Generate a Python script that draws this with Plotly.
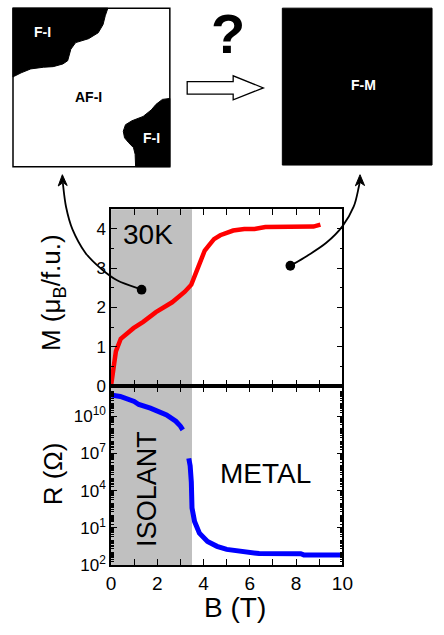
import plotly.graph_objects as go

# ---- data -------------------------------------------------------------
# Magnetisation M (mu_B / f.u.) versus field B (T) at 30 K
B_mag = [0.0, 0.1, 0.21, 0.42, 0.7, 0.97, 1.39, 1.94, 2.64, 3.19, 3.47, 3.61,
         3.75, 3.89, 4.05, 4.24, 4.45, 4.72, 5.0, 5.28, 5.76, 6.2, 6.67, 7.5,
         8.75, 9.05]
M_mag = [0.0, 0.45, 0.88, 1.2, 1.35, 1.47, 1.63, 1.88, 2.13, 2.4, 2.58, 2.8,
         3.05, 3.25, 3.45, 3.59, 3.74, 3.84, 3.91, 3.96, 4.0, 4.0, 4.05, 4.06,
         4.06, 4.11]

# Resistance R (Ohm) versus field B (T): insulating branch and metallic branch
B_res_ins = [0.0, 0.05, 0.4, 1.0, 1.2, 1.7, 2.4, 2.8, 3.0, 3.1]
R_res_ins = [7.0e11, 5.0e11, 4.0e11, 1.6e11, 9.0e10, 4.5e10, 1.3e10, 4.0e9,
             1.6e9, 8.0e8]
B_res_met = [3.36, 3.42, 3.47, 3.5, 3.61, 3.82, 4.17, 4.58, 5.0, 5.28, 6.25,
             6.4, 8.2, 8.33, 10.0]
R_res_met = [4.0e6, 1.0e6, 5.0e4, 4.0e2, 3.2e1, 3.7, 0.8, 0.32, 0.18, 0.15,
             0.095, 0.083, 0.08, 0.065, 0.065]

# tick labels of the log axis
R_tickvals = [1e-2, 1e1, 1e4, 1e7, 1e10]
R_ticktext = ["10<sup>2</sup>", "10<sup>1</sup>", "10<sup>4</sup>",
              "10<sup>7</sup>", "10<sup>10</sup>"]

B_insulator_edge = 3.5

# ---- geometry helpers (pixel -> paper) --------------------------------
W, H = 444, 635
FONT = "Liberation Sans, Arial, Helvetica, sans-serif"


def px(x):
    return x / W


def py(y):
    return 1 - y / H


def poly_path(points, close=True):
    d = "M" + " L".join(f"{px(x):.5f},{py(y):.5f}" for x, y in points)
    return d + (" Z" if close else "")


def smooth_path(points):
    pts = [(px(x), py(y)) for x, y in points]
    d = f"M{pts[0][0]:.5f},{pts[0][1]:.5f}"
    n = len(pts)
    for i in range(n - 1):
        p0 = pts[i - 1] if i > 0 else pts[i]
        p1, p2 = pts[i], pts[i + 1]
        p3 = pts[i + 2] if i + 2 < n else p2
        c1 = (p1[0] + (p2[0] - p0[0]) / 6, p1[1] + (p2[1] - p0[1]) / 6)
        c2 = (p2[0] - (p3[0] - p1[0]) / 6, p2[1] - (p3[1] - p1[1]) / 6)
        d += (f" C{c1[0]:.5f},{c1[1]:.5f} {c2[0]:.5f},{c2[1]:.5f} "
              f"{p2[0]:.5f},{p2[1]:.5f}")
    return d


# ---- figure -----------------------------------------------------------
fig = go.Figure()

fig.add_trace(go.Scatter(x=B_mag, y=M_mag, mode="lines",
                         line=dict(color="#ff0000", width=4.5),
                         xaxis="x", yaxis="y", showlegend=False,
                         hoverinfo="skip"))
fig.add_trace(go.Scatter(x=B_res_ins, y=R_res_ins, mode="lines",
                         line=dict(color="#0000ff", width=5),
                         xaxis="x2", yaxis="y2", showlegend=False,
                         hoverinfo="skip"))
fig.add_trace(go.Scatter(x=B_res_met, y=R_res_met, mode="lines",
                         line=dict(color="#0000ff", width=5),
                         xaxis="x2", yaxis="y2", showlegend=False,
                         hoverinfo="skip"))

x_dom = [px(110), px(350)]
y_top = [py(392), py(212.7)]
y_bot = [py(574), py(392)]

axis_common = dict(showline=True, linecolor="black", linewidth=1.5,
                   mirror="ticks", ticks="inside", tickcolor="black",
                   ticklen=6, tickwidth=1.2, showgrid=False, zeroline=False)

minor_log = [m * 10 ** k for k in range(-2, 13) for m in range(1, 10)
             if m * 10 ** k not in R_tickvals]

fig.update_layout(
    width=W, height=H,
    margin=dict(l=0, r=0, t=0, b=0),
    paper_bgcolor="white", plot_bgcolor="rgba(0,0,0,0)",
    font=dict(family=FONT, color="black"),
    xaxis=dict(domain=x_dom, anchor="y", range=[0, 10], dtick=2,
               showticklabels=False,
               minor=dict(dtick=1, ticks="inside", ticklen=6,
                          tickcolor="black"),
               **axis_common),
    yaxis=dict(domain=y_top, anchor="x", range=[0, 4.5], dtick=1,
               tickfont=dict(size=17),
               minor=dict(dtick=0.5, ticks="inside", ticklen=3,
                          tickcolor="black"),
               **axis_common),
    xaxis2=dict(domain=x_dom, anchor="y2", range=[0, 10], dtick=2,
                tickfont=dict(size=19),
                minor=dict(dtick=1, ticks="inside", ticklen=6,
                           tickcolor="black"),
                **axis_common),
    yaxis2=dict(domain=y_bot, anchor="x2", type="log", range=[-2, 12.46],
                tickvals=R_tickvals, ticktext=R_ticktext,
                tickfont=dict(size=17),
                minor=dict(tickvals=minor_log, ticks="inside", ticklen=3,
                           tickcolor="black"),
                **axis_common),
)

shapes = []
# shaded insulating region in both panels
for xr, yr in (("x", "y domain"), ("x2", "y2 domain")):
    shapes.append(dict(type="rect", xref=xr, yref=yr, x0=0,
                       x1=B_insulator_edge, y0=0, y1=1,
                       fillcolor="#c0c0c0", line=dict(width=0),
                       layer="below"))

# left sketch: AF-I matrix with F-I clusters
shapes.append(dict(type="rect", xref="paper", yref="paper",
                   x0=px(8.3), x1=px(171), y0=py(169.3), y1=py(8.3),
                   fillcolor="white", line=dict(color="black", width=1.5)))
blob_tl = [(8.3, 8.3), (106.7, 8.3), (104, 16), (101.7, 25), (96.7, 33.3),
           (86.7, 39.3), (73.3, 43.3), (68.3, 50), (65, 61.7), (60, 65),
           (50, 67.7), (40, 68.3), (26.7, 70), (16.7, 74), (10, 77.3),
           (8.3, 78.3)]
blob_br = [(171, 100), (163.3, 101), (156.7, 106), (151.7, 111.7),
           (143.3, 118.3), (131.7, 122.7), (125, 126.7), (122.7, 133.3),
           (124, 140), (128.3, 145), (133.3, 150), (135, 156.7),
           (135.5, 169.3), (171, 169.3)]
for blob in (blob_tl, blob_br):
    shapes.append(dict(type="path", xref="paper", yref="paper",
                       path=poly_path(blob), fillcolor="black",
                       line=dict(color="black", width=1)))

# right sketch: fully ferromagnetic metal
shapes.append(dict(type="rect", xref="paper", yref="paper",
                   x0=px(287.7), x1=px(443), y0=py(167.7), y1=py(8.3),
                   fillcolor="black", line=dict(color="black", width=1)))

# hollow block arrow between the sketches
shapes.append(dict(type="path", xref="paper", yref="paper",
                   path=poly_path([(189, 83), (236.7, 83), (236.7, 77),
                                   (268, 89.3), (236.7, 101.5),
                                   (236.7, 95.7), (189, 95.7)]),
                   fillcolor="white", line=dict(color="black", width=1.3)))

# curved pointers from the M curve to the sketches
curve_left = [(141.7, 294.3), (116.7, 285), (100, 273.3), (83.3, 256.7),
              (70, 233), (63.3, 210), (60, 186)]
curve_right = [(296, 270), (313.3, 260), (333.3, 246.7), (350, 230),
               (361.7, 210), (367, 190), (368, 184)]
for c in (curve_left, curve_right):
    shapes.append(dict(type="path", xref="paper", yref="paper",
                       path=smooth_path(c),
                       line=dict(color="black", width=1.8)))
heads = [
    [(59.5, 177.5), (64.5, 188.5), (60.2, 185.5), (55.2, 189)],
    [(368.3, 177.5), (373, 188.5), (368.3, 185.3), (363.5, 188.8)],
]
for hd in heads:
    shapes.append(dict(type="path", xref="paper", yref="paper",
                       path=poly_path(hd), fillcolor="black",
                       line=dict(color="black", width=1)))
for cx, cy in ((141.7, 294.3), (296, 270)):
    shapes.append(dict(type="circle", xref="paper", yref="paper",
                       x0=px(cx - 5), x1=px(cx + 5),
                       y0=py(cy + 5), y1=py(cy - 5),
                       fillcolor="black", line=dict(color="black", width=0)))

fig.update_layout(shapes=shapes)


def note(text, x, y, size, color="black", angle=0, bold=False):
    fig.add_annotation(text=f"<b>{text}</b>" if bold else text,
                       xref="paper", yref="paper", x=px(x), y=py(y),
                       xanchor="center", yanchor="middle", showarrow=False,
                       textangle=angle,
                       font=dict(family=FONT, size=size, color=color))


note("F-I", 38.8, 32.3, 14, "white", bold=True)
note("AF-I", 86.3, 98.3, 14, bold=True)
note("F-I", 152.2, 140, 14, "white", bold=True)
note("F-M", 371.7, 86, 14, "white", bold=True)
note("?", 231.5, 34, 56, bold=True)

note("30K", 148, 238, 28)
note("ISOLANT", 147, 497, 27, angle=-90)
note("METAL", 270, 481, 28)
note("M (\u03bc<sub>B</sub>/f.u.)", 50, 297.5, 26, angle=-90)
note("R (\u03a9)", 50, 481.7, 26, angle=-90)
note("B (T)", 239, 617, 28)

fig.write_html("out.html")
